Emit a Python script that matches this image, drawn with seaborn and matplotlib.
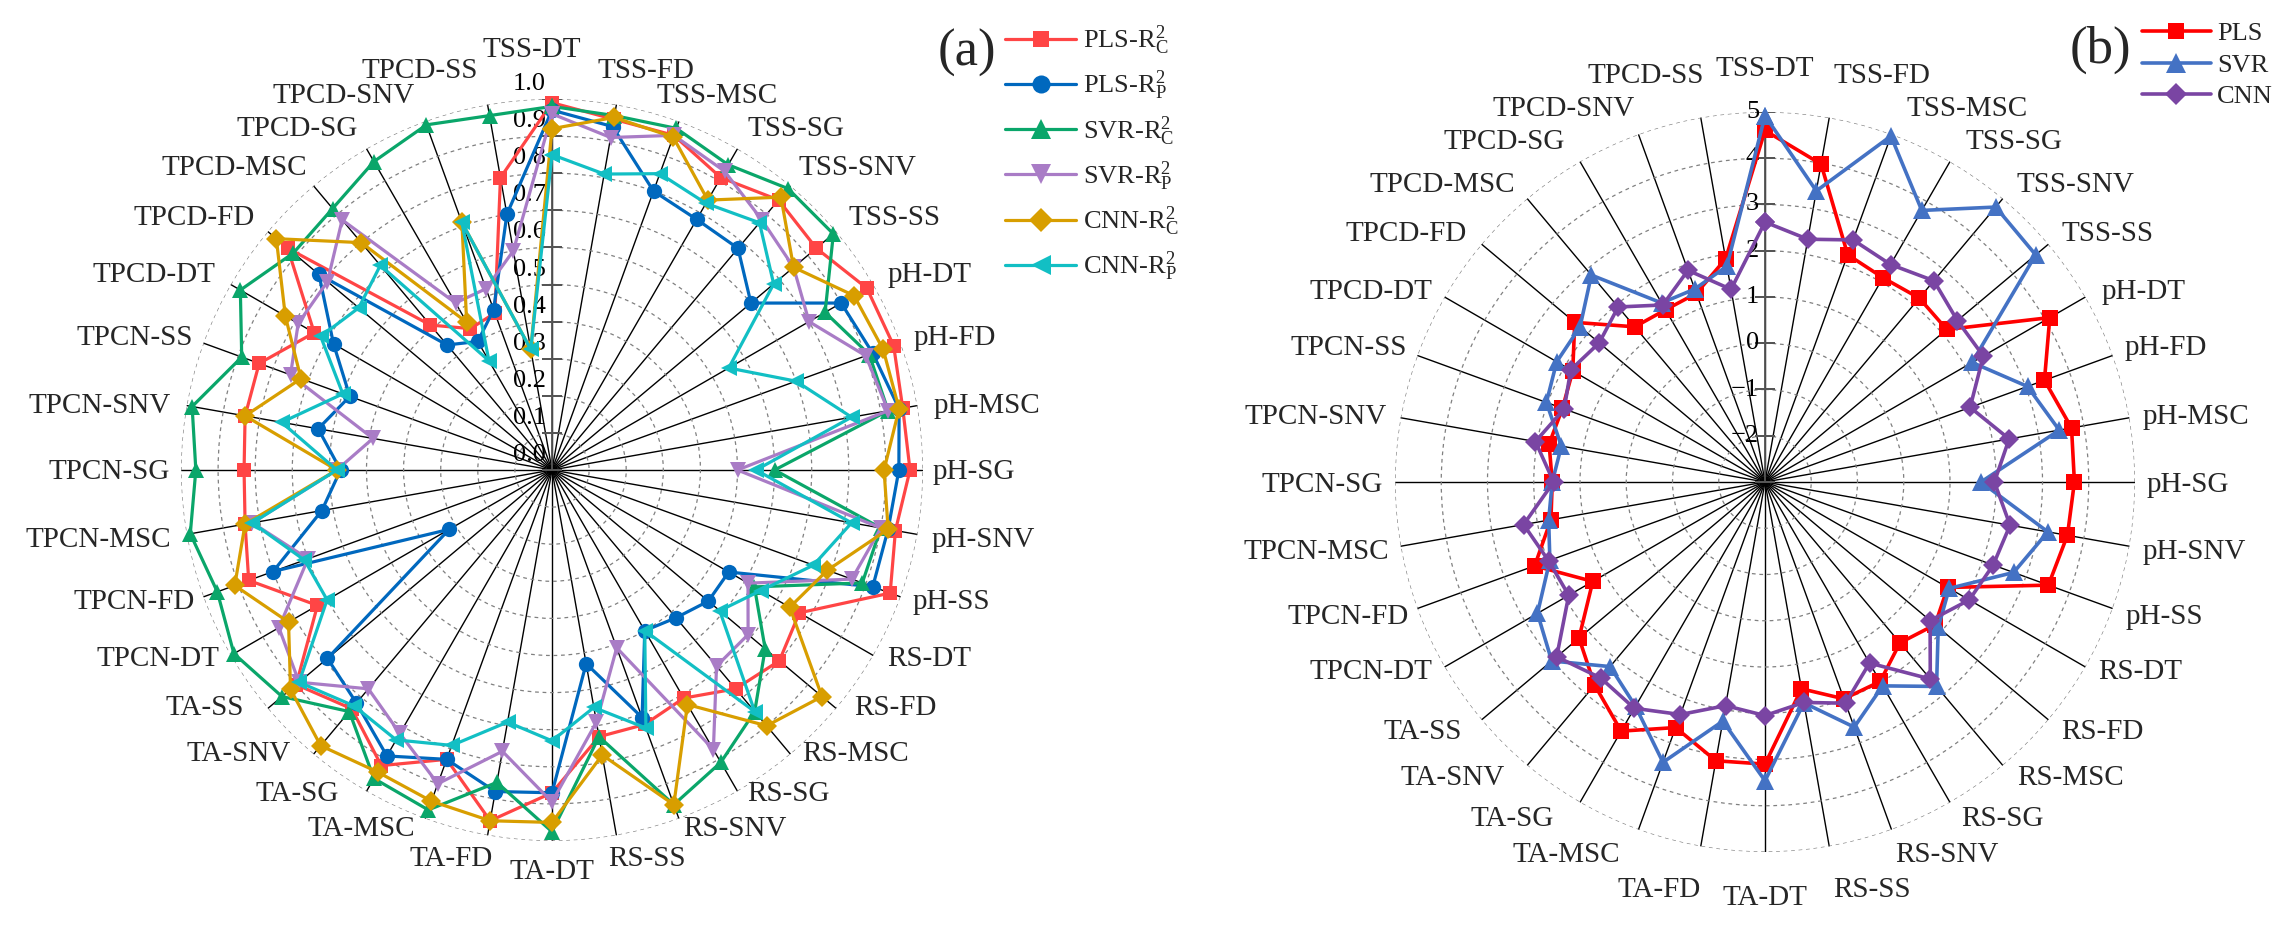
import numpy as np
import matplotlib
matplotlib.use("Agg")
import matplotlib.pyplot as plt
import seaborn as sns
from matplotlib.lines import Line2D

categories = ["TSS-DT", "TSS-FD", "TSS-MSC", "TSS-SG", "TSS-SNV", "TSS-SS",
              "pH-DT", "pH-FD", "pH-MSC", "pH-SG", "pH-SNV", "pH-SS",
              "RS-DT", "RS-FD", "RS-MSC", "RS-SG", "RS-SNV", "RS-SS",
              "TA-DT", "TA-FD", "TA-MSC", "TA-SG", "TA-SNV", "TA-SS",
              "TPCN-DT", "TPCN-FD", "TPCN-MSC", "TPCN-SG", "TPCN-SNV", "TPCN-SS",
              "TPCD-DT", "TPCD-FD", "TPCD-MSC", "TPCD-SG", "TPCD-SNV", "TPCD-SS"]

# ---------- panel (a): R2 values ----------
pls_rc = [.99, .96, .96, .91, .95, .93, .98, .98, .96, .965, .94, .97,
          .77, .80, .77, .71, .73, .73, .87, .96, .83, .92, .84, .90,
          .73, .87, .84, .83, .84, .84, .74, .93, .51, .44, .45, .80]
pls_rp = [.97, .94, .80, .78, .78, .70, .90, .92, .95, .935, .92, .92,
          .55, .55, .52, .50, .71, .53, .87, .88, .83, .89, .82, .79,
          .32, .80, .63, .57, .64, .58, .68, .82, .44, .40, .46, .70]
svr_rc = [.98, .97, .98, .95, .99, .99, .85, .91, .92, .60, .90, .89,
          .63, .75, .85, .91, .96, .73, .975, .855, .975, .96, .85, .95,
          .99, .96, .99, .96, .985, .89, .97, .91, .92, .96, .99, .97]
svr_rp = [.96, .91, .96, .93, .88, .85, .80, .90, .92, .50, .90, .86,
          .61, .69, .69, .87, .51, .69, .895, .77, .90, .82, .77, .89,
          .85, .70, .82, .58, .49, .75, .79, .79, .88, .52, .52, .60]
cnn_rc = [.92, .965, .955, .84, .96, .85, .94, .95, .95, .895, .92, .79,
          .74, .95, .90, .73, .96, .78, .95, .96, .95, .94, .97, .92,
          .82, .91, .84, .58, .84, .72, .83, .97, .80, .46, .71, .33]
cnn_rp = [.85, .81, .85, .83, .87, .78, .55, .70, .82, .55, .82, .75,
          .65, .59, .85, .50, .74, .65, .73, .69, .79, .84, .83, .89,
          .70, .71, .82, .58, .74, .60, .72, .68, .72, .34, .71, .33]

# ---------- panel (b) values ----------
pls_b = [4.60, 3.98, 2.23, 2.10, 2.19, 2.13, 4.11, 3.43, 3.73, 3.69, 3.64, 3.52,
         1.56, 1.80, 1.54, 1.98, 1.99, 1.54, 3.10, 3.12, 2.65, 3.22, 2.73, 2.25,
         1.30, 2.30, 1.70, 1.60, 1.74, 1.66, 1.80, 2.37, 1.38, 1.30, 1.34, 1.90]
svr_b = [4.92, 3.39, 4.96, 3.78, 4.76, 4.64, 2.17, 3.04, 3.46, 1.67, 3.21, 2.72,
         1.60, 1.89, 2.77, 2.09, 2.64, 1.85, 3.46, 2.25, 3.45, 2.60, 2.21, 3.02,
         2.68, 1.95, 1.75, 1.60, 1.47, 2.03, 2.20, 2.22, 2.84, 1.47, 1.44, 1.74]
cnn_b = [2.62, 2.33, 2.57, 2.43, 2.68, 2.43, 2.45, 1.72, 2.36, 1.96, 2.38, 2.25,
         2.10, 1.66, 2.56, 1.52, 2.09, 1.84, 2.05, 1.91, 2.35, 2.65, 2.53, 2.88,
         1.90, 1.98, 2.30, 1.57, 2.04, 1.62, 1.85, 1.68, 1.94, 1.42, 1.87, 1.23]

ticks_a = [0.0, 0.1, 0.2, 0.3, 0.4, 0.5, 0.6, 0.7, 0.8, 0.9, 1.0]
ticklabels_a = ["0.0", "0.1", "0.2", "0.3", "0.4", "0.5", "0.6", "0.7", "0.8", "0.9", "1.0"]
ticks_b = [-3, -2, -1, 0, 1, 2, 3, 4, 5]
ticklabels_b = ["", "\u22122", "\u22121", "0", "1", "2", "3", "4", "5"]

labels_a = [r"PLS-R$_{\mathrm{C}}^{\mathrm{2}}$", r"PLS-R$_{\mathrm{P}}^{\mathrm{2}}$",
            r"SVR-R$_{\mathrm{C}}^{\mathrm{2}}$", r"SVR-R$_{\mathrm{P}}^{\mathrm{2}}$",
            r"CNN-R$_{\mathrm{C}}^{\mathrm{2}}$", r"CNN-R$_{\mathrm{P}}^{\mathrm{2}}$"]
labels_b = ["PLS", "SVR", "CNN"]

colors_a = ["#FF4545", "#0068BE", "#0AA66A", "#A97CC6", "#D89E00", "#12BFC4"]
markers_a = ["s", "o", "^", "v", "D", "<"]
msize_a = [10, 11, 12, 12, 10, 12]
colors_b = ["#FF0000", "#4472C4", "#7A45A3"]
markers_b = ["s", "^", "D"]
msize_b = [11, 13, 10]

# label placement tables (pixel offsets vs angle), mimicking the original layout
gap_a = [-20, -19, -22, 10, 8, 12, 14, 13, 16, 10, 14, 12, 14, 18, 12, 10, 4, -8,
         0, -5, 10, 28, 23, 24, 11, 9, 16, 11, 16, 10, 15, 13, 6, 9, 10, 10]
gap_b = [0, 4, 15, 16, 14, 13, 16, 12, 13, 12, 13, 13, 13, 13, 14, 11, 4, 4,
         0, 0, 18, 26, 22, 20, 12, 9, 11, 12, 14, 10, 12, 15, 12, 15, 4, -3]
psi_tab = np.arange(0, 190, 10)
up_a = [49, 34, 25, 20, 18, 14, 10, 5, 0, -2, -6, -5, -3, 0, 0, -3, -10, -24, -31]
up_b = [43, 42, 25, 20, 14, 10, 5, 7, 1, -3, -6, -8, -5, -12, -13, -17, -25, -44, -46]

sns.set_theme(style="white")
plt.rcParams["font.family"] = ["Liberation Serif", "DejaVu Serif"]
plt.rcParams["mathtext.fontset"] = "custom"
plt.rcParams["mathtext.rm"] = "Liberation Serif"
plt.rcParams["mathtext.it"] = "Liberation Serif:italic"
plt.rcParams["mathtext.bf"] = "Liberation Serif:bold"

W, H = 2294, 933
fig = plt.figure(figsize=(W / 100, H / 100), dpi=100)
fig.patch.set_facecolor("white")

n = len(categories)
theta = np.deg2rad(np.arange(n) * 360.0 / n)
theta_closed = np.append(theta, 2 * np.pi)
PX = 0.72  # points per pixel at dpi 100


def make_polar(cx, cy, R, rmin, rmax, ticks, ticklabels, lab_up, gaps, ups):
    ax = fig.add_axes([(cx - R) / W, (H - cy - R) / H, 2 * R / W, 2 * R / H],
                      projection="polar")
    ax.set_theta_zero_location("N")
    ax.set_theta_direction(-1)
    ax.set_ylim(rmin, rmax)
    ax.set_xticks(theta)
    ax.set_xticklabels([])
    ax.set_yticks(ticks)
    ax.set_yticklabels([])
    ax.tick_params(length=0)
    ax.xaxis.grid(True, color="black", lw=1.0, ls="-")
    ax.yaxis.grid(True, color="#808080", lw=0.9, ls=(0, (3, 3)))
    ax.spines["polar"].set_visible(False)
    ax.set_facecolor("none")
    ax.plot([0, 0], [rmin, rmax], color="#555555", lw=1.3, zorder=1.5)
    ax.plot(np.zeros(len(ticks)), ticks, ls="none", marker="_", ms=14,
            mew=1.2, color="#555555", zorder=1.5)
    for r, lab in zip(ticks, ticklabels):
        ax.annotate(lab, xy=(0, r), xytext=(-6 * PX, lab_up * PX),
                    textcoords="offset points", ha="right", va="center",
                    fontsize=19, color="black", zorder=1.6)
    for i, (t, lab) in enumerate(zip(theta, categories)):
        deg = np.rad2deg(t)
        s = np.sin(t)
        psi = min(deg, 360 - deg)
        dy = np.interp(psi, psi_tab, ups)
        g = gaps[i]
        if abs(s) < 0.05:
            ha, dx = "center", g
        elif s > 0:
            ha, dx = "left", g
        else:
            ha, dx = "right", -g
        ax.annotate(lab, xy=(t, rmax), xytext=(dx * PX, dy * PX),
                    textcoords="offset points", ha=ha, va="center",
                    fontsize=21, annotation_clip=False)
    return ax


# ---------------- panel (a) ----------------
ax1 = make_polar(552, 470, 371, 0.0, 1.0, ticks_a, ticklabels_a, 15, gap_a, up_a)
series_a = [pls_rc, pls_rp, svr_rc, svr_rp, cnn_rc, cnn_rp]
handles_a = []
for vals, col, mk, ms, lab in zip(series_a, colors_a, markers_a, msize_a, labels_a):
    v = np.append(vals, vals[0])
    sns.lineplot(x=theta_closed, y=v, ax=ax1, color=col, marker=mk, markersize=ms,
                 markeredgewidth=0, linewidth=2.3, sort=False, legend=False,
                 clip_on=False, zorder=3)
    handles_a.append(Line2D([], [], color=col, marker=mk, markersize=ms + 2,
                            markeredgewidth=0, lw=2.3, label=lab))

# ---------------- panel (b) ----------------
ax2 = make_polar(1765, 482, 370, -3.0, 5.0, ticks_b, ticklabels_b, 0, gap_b, up_b)
series_b = [pls_b, svr_b, cnn_b]
handles_b = []
for vals, col, mk, ms, lab in zip(series_b, colors_b, markers_b, msize_b, labels_b):
    v = np.append(vals, vals[0])
    sns.lineplot(x=theta_closed, y=v, ax=ax2, color=col, marker=mk, markersize=ms,
                 markeredgewidth=0, linewidth=2.6, sort=False, legend=False,
                 clip_on=False, zorder=3)
    handles_b.append(Line2D([], [], color=col, marker=mk, markersize=ms + 1,
                            markeredgewidth=0, lw=2.6, label=lab))

fig.text(967 / W, 1 - 53 / H, "(a)", ha="center", va="center", fontsize=38)
fig.legend(handles=handles_a, loc="upper left", bbox_to_anchor=(1005 / W, 1 - 24 / H),
           frameon=False, fontsize=19, handlelength=2.7, handletextpad=0.25,
           labelspacing=0.45, borderpad=0, borderaxespad=0)

fig.text(2100 / W, 1 - 50 / H, "(b)", ha="center", va="center", fontsize=38)
fig.legend(handles=handles_b, loc="upper left", bbox_to_anchor=(2142 / W, 1 - 22 / H),
           frameon=False, fontsize=19, handlelength=2.6, handletextpad=0.25,
           labelspacing=0.3, borderpad=0, borderaxespad=0)

fig.savefig("out.png", dpi=100, facecolor="white")
